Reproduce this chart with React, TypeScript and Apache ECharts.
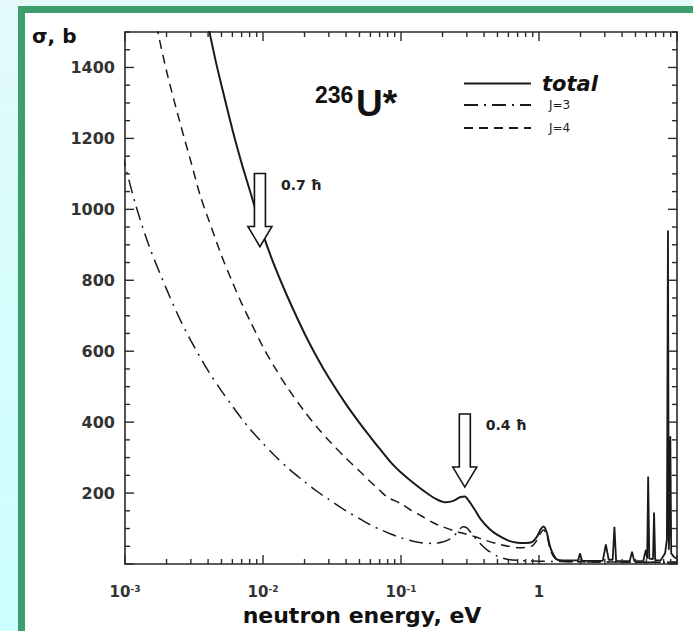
import React, { useEffect, useRef } from 'react';
import * as echarts from 'echarts';

const DEJAVU = '"DejaVu Sans", sans-serif';
const ARIAL = '"Liberation Sans", Arial, sans-serif';

const seriesNames = ['total', 'J=3', 'J=4'];
const xLabelExponents = [-3, -2, -1, 0];
const yTickLabels = [200, 400, 600, 800, 1000, 1200, 1400];

const X_MIN = 0.001;
const X_MAX = 10;
const Y_MIN = 0;
const Y_MAX = 1500;

// tick positions (data units)
const xMajorTicks = [0.001, 0.01, 0.1, 1, 10];
const xMinorMultipliers = [2, 3, 4, 5, 6, 7, 8, 9];
const yMajorTicks = [0, 200, 400, 600, 800, 1000, 1200, 1400];
const yMinorTicks = [50, 100, 150, 250, 300, 350, 450, 500, 550, 650, 700, 750, 850, 900, 950,
  1050, 1100, 1150, 1250, 1300, 1350, 1450, 1500];

// total cross-section, smooth part  [E (eV), sigma (b)]
const totalCurve: [number, number][] = [
  [0.0038, 1560], [0.0045, 1425], [0.005, 1350], [0.006, 1225], [0.007, 1130], [0.008, 1055],
  [0.01, 930], [0.012, 845], [0.015, 755], [0.02, 650], [0.025, 578], [0.03, 525], [0.04, 450],
  [0.05, 398], [0.06, 358], [0.07, 325], [0.085, 285], [0.1, 258], [0.12, 232], [0.15, 203],
  [0.18, 183], [0.21, 174], [0.24, 178], [0.27, 189], [0.29, 190], [0.31, 178], [0.34, 155],
  [0.38, 125], [0.44, 98], [0.5, 82], [0.6, 66], [0.7, 60], [0.8, 59], [0.9, 63], [0.97, 78],
  [1.03, 98], [1.08, 106], [1.14, 88], [1.2, 50], [1.28, 24], [1.36, 12], [1.5, 10],
];

// total cross-section, narrow resonances above 1.5 eV
const totalResonances: [number, number][] = [
  [1.5, 10], [1.92, 10], [1.98, 30], [2.05, 9], [2.9, 9], [3.05, 55], [3.2, 12], [3.42, 12],
  [3.52, 105], [3.62, 9], [4.55, 8], [4.72, 35], [4.9, 8], [5.7, 9], [5.95, 40], [6.08, 15],
  [6.18, 247], [6.3, 15], [6.7, 14], [6.82, 145], [6.95, 10], [7.6, 10], [8.2, 30], [8.45, 70],
  [8.6, 940], [8.72, 40], [8.85, 120], [8.95, 360], [9.08, 30], [9.5, 20], [10, 15],
];

// J=3 partial cross-section
const j3Curve: [number, number][] = [
  [0.00095, 1160], [0.001, 1125], [0.0012, 1010], [0.0015, 895], [0.002, 775], [0.0025, 690],
  [0.003, 630], [0.004, 545], [0.005, 488], [0.006, 445], [0.007, 410], [0.008, 382], [0.01, 340],
  [0.012, 308], [0.015, 272], [0.02, 232], [0.025, 203], [0.03, 182], [0.04, 150], [0.05, 128],
  [0.06, 110], [0.07, 98], [0.085, 84], [0.1, 74], [0.12, 65], [0.14, 60], [0.17, 58], [0.2, 62],
  [0.23, 72], [0.26, 92], [0.28, 105], [0.3, 102], [0.33, 82], [0.37, 60], [0.42, 40], [0.5, 22],
  [0.6, 13], [0.8, 9], [1, 8], [2, 6], [10, 5],
];

// J=4 partial cross-section
const j4Curve: [number, number][] = [
  [0.0016, 1560], [0.002, 1390], [0.0025, 1245], [0.003, 1135], [0.0035, 1040], [0.004, 975],
  [0.005, 870], [0.006, 795], [0.007, 735], [0.008, 688], [0.01, 612], [0.012, 558], [0.015, 498],
  [0.02, 430], [0.025, 383], [0.03, 348], [0.04, 298], [0.05, 262], [0.06, 232], [0.07, 208],
  [0.08, 188], [0.1, 170], [0.12, 150], [0.14, 136], [0.17, 117], [0.2, 105], [0.25, 92],
  [0.3, 84], [0.35, 76], [0.4, 68], [0.5, 57], [0.6, 50], [0.7, 46], [0.8, 47], [0.9, 52],
  [0.97, 68], [1.03, 88], [1.08, 96], [1.14, 80], [1.2, 44], [1.28, 20], [1.4, 9], [2, 6], [10, 5],
];

// spin-transfer arrows (tip position in data coordinates)
const arrowEnergy = [0.0095, 0.29];
const arrowSigma = [895, 217];
const arrowLabels = ['0.7 ħ', '0.4 ħ'];

// legend row centres (px) for total, J=3, J=4
const legendRowY = [80, 105, 128];

const LINE = '#1a1a1a';
const AXIS = '#2a2a2a';
const lineStyles: any[] = [
  { color: LINE, width: 2 },
  { color: LINE, width: 1.5, type: [14, 6, 2, 6] },
  { color: LINE, width: 1.5, type: [9, 6] },
];
const MAJOR_LEN = 9;
const MINOR_LEN = 5;
const TICK_W = 1.4;

const xTickList: number[][] = [];
xMajorTicks.forEach((v) => xTickList.push([v, MAJOR_LEN]));
xMajorTicks.slice(0, -1).forEach((d) => xMinorMultipliers.forEach((m) => xTickList.push([d * m, MINOR_LEN])));
const yTickList: number[][] = [
  ...yMajorTicks.map((v) => [v, MAJOR_LEN]),
  ...yMinorTicks.map((v) => [v, MINOR_LEN]),
];

// a tick mark drawn as a thin filled rectangle
function tickRect(x: number, y: number, w: number, h: number): any {
  return {
    type: 'rect',
    z: 30,
    silent: true,
    shape: { x, y, width: w, height: h },
    style: { fill: AXIS },
  };
}

function makeX(position: 'bottom' | 'top'): any {
  const main = position === 'bottom';
  return {
    type: 'log',
    logBase: 10,
    min: X_MIN,
    max: X_MAX,
    position,
    splitLine: { show: false },
    minorSplitLine: { show: false },
    axisLine: { show: true, onZero: false, lineStyle: { color: AXIS, width: 1.6 } },
    axisTick: { show: false },
    minorTick: { show: false },
    axisLabel: main
      ? {
          show: true,
          margin: 20,
          formatter: (v: number) => {
            const e = Math.round(Math.log10(v));
            if (!xLabelExponents.includes(e)) return '';
            return e === 0 ? '{b|1}' : `{b|10}{sup|${e}}`;
          },
          rich: {
            b: { fontFamily: DEJAVU, fontWeight: 'bold', fontSize: 15, color: '#333', lineHeight: 16 },
            sup: { fontFamily: DEJAVU, fontWeight: 'bold', fontSize: 9, color: '#333', verticalAlign: 'top', lineHeight: 10 },
          },
        }
      : { show: false },
    name: main ? 'neutron energy, eV' : '',
    nameLocation: 'middle',
    nameGap: 36,
    nameTextStyle: {
      fontFamily: DEJAVU,
      fontWeight: 'bold',
      fontSize: 22,
      color: '#111',
      padding: [0, 78, 0, 0],
    },
  };
}

function makeY(position: 'left' | 'right'): any {
  const main = position === 'left';
  return {
    type: 'value',
    min: Y_MIN,
    max: Y_MAX,
    interval: 200,
    position,
    splitLine: { show: false },
    minorSplitLine: { show: false },
    axisLine: { show: true, onZero: false, lineStyle: { color: AXIS, width: 1.6 } },
    axisTick: { show: false },
    minorTick: { show: false },
    axisLabel: main
      ? {
          show: true,
          margin: 10,
          fontFamily: DEJAVU,
          fontWeight: 'bold',
          fontSize: 16,
          color: '#333',
          formatter: (v: number) => (yTickLabels.includes(v) ? String(v) : ''),
        }
      : { show: false },
  };
}

function makeLegend(i: number): any {
  const isTotal = i === 0;
  return {
    orient: 'vertical',
    left: 463,
    top: legendRowY[i] - 7,
    padding: 0,
    itemWidth: 67,
    itemHeight: 14,
    itemGap: 0,
    selectedMode: false,
    itemStyle: { opacity: 0 },
    data: [seriesNames[i]],
    textStyle: isTotal
      ? { fontFamily: DEJAVU, fontWeight: 'bold', fontStyle: 'italic', fontSize: 21, color: '#111', lineHeight: 14, padding: [0, 0, 0, 6] }
      : { fontFamily: DEJAVU, fontSize: 12, color: '#222', lineHeight: 14, padding: [0, 0, 0, 13] },
  };
}

export default function App() {
  const ref = useRef<HTMLDivElement>(null);

  useEffect(() => {
    if (!ref.current) return;
    const chart = echarts.init(ref.current, undefined, { renderer: 'svg' });
    const option: any = {
      animation: false,
      backgroundColor: 'transparent',
      grid: { left: 125, right: 16, top: 32, bottom: 67, containLabel: false, outerBoundsMode: 'none' },
      xAxis: [makeX('bottom'), makeX('top')],
      yAxis: [makeY('left'), makeY('right')],
      legend: [0, 1, 2].map((i) => makeLegend(i)),
      series: [
        {
          name: seriesNames[0], type: 'line', data: totalCurve, symbol: 'none', smooth: 0.3,
          lineStyle: lineStyles[0], itemStyle: { color: LINE }, z: 5,
        },
        {
          name: seriesNames[0], type: 'line', data: totalResonances, symbol: 'none', smooth: false,
          lineStyle: { color: LINE, width: 1.8 }, itemStyle: { color: LINE }, z: 5,
        },
        {
          name: seriesNames[1], type: 'line', data: j3Curve, symbol: 'none', smooth: 0.3,
          lineStyle: lineStyles[1], itemStyle: { color: LINE },
        },
        {
          name: seriesNames[2], type: 'line', data: j4Curve, symbol: 'none', smooth: 0.3,
          lineStyle: lineStyles[2], itemStyle: { color: LINE },
        },
      ],
    };
    chart.setOption(option);

    const toPx = (x: number, y: number) =>
      chart.convertToPixel({ xAxisIndex: 0, yAxisIndex: 0 } as any, [x, y]) as number[];

    const graphics: any[] = [
      {
        type: 'text', left: 32, top: 26,
        style: { text: 'σ, b', fontFamily: DEJAVU, fontWeight: 'bold', fontSize: 20, fill: '#111' },
      },
      {
        type: 'text', x: 315, y: 95,
        style: { text: '236', fontFamily: ARIAL, fontWeight: 'bold', fontSize: 23, fill: '#111', verticalAlign: 'middle' },
      },
      {
        type: 'text', x: 356, y: 103,
        style: { text: 'U*', fontFamily: ARIAL, fontWeight: 'bold', fontSize: 37, fill: '#111', verticalAlign: 'middle' },
      },
    ];

    // inward frame ticks on all four sides, positioned through the axes' own scales
    xTickList.forEach(([v, len]) => {
      const b = toPx(v, Y_MIN);
      const t = toPx(v, Y_MAX);
      if (!b || !t) return;
      graphics.push(tickRect(b[0] - TICK_W / 2, b[1] - len, TICK_W, len));
      graphics.push(tickRect(t[0] - TICK_W / 2, t[1], TICK_W, len));
    });
    yTickList.forEach(([v, len]) => {
      const l = toPx(X_MIN, v);
      const r = toPx(X_MAX, v);
      if (!l || !r) return;
      graphics.push(tickRect(l[0], l[1] - TICK_W / 2, len, TICK_W));
      graphics.push(tickRect(r[0] - len, r[1] - TICK_W / 2, len, TICK_W));
    });

    arrowEnergy.forEach((e, i) => {
      const p = toPx(e, arrowSigma[i]);
      if (!p) return;
      graphics.push({
        type: 'polygon',
        x: p[0], y: p[1], z: 10,
        shape: { points: [[-5.5, -73], [5.5, -73], [5.5, -20], [12, -20], [0, 0], [-12, -20], [-5.5, -20]] },
        style: { fill: '#fff', stroke: '#111', lineWidth: 1.6 },
      });
      graphics.push({
        type: 'text', x: p[0] + 21, y: p[1] - 62, z: 10,
        style: { text: arrowLabels[i], fontFamily: DEJAVU, fontWeight: 'bold', fontSize: 14, fill: '#222', verticalAlign: 'middle' },
      });
    });
    chart.setOption({ graphic: graphics });

    return () => chart.dispose();
  }, []);

  return (
    <div style={{ position: 'absolute', left: 0, top: 0, width: 693, height: 631, overflow: 'hidden',
      background: 'linear-gradient(180deg, #e4fafa 0%, #d6fdfd 50%, #cdfefe 100%)' }}>
      <div style={{ position: 'absolute', left: 18, top: 6, width: 675, height: 625, boxSizing: 'border-box',
        background: '#fff', borderLeft: '7px solid #3c9e6a', borderTop: '7px solid #3c9e6a' }} />
      <div ref={ref} style={{ position: 'absolute', left: 0, top: 0, width: 693, height: 631 }} />
    </div>
  );
}
